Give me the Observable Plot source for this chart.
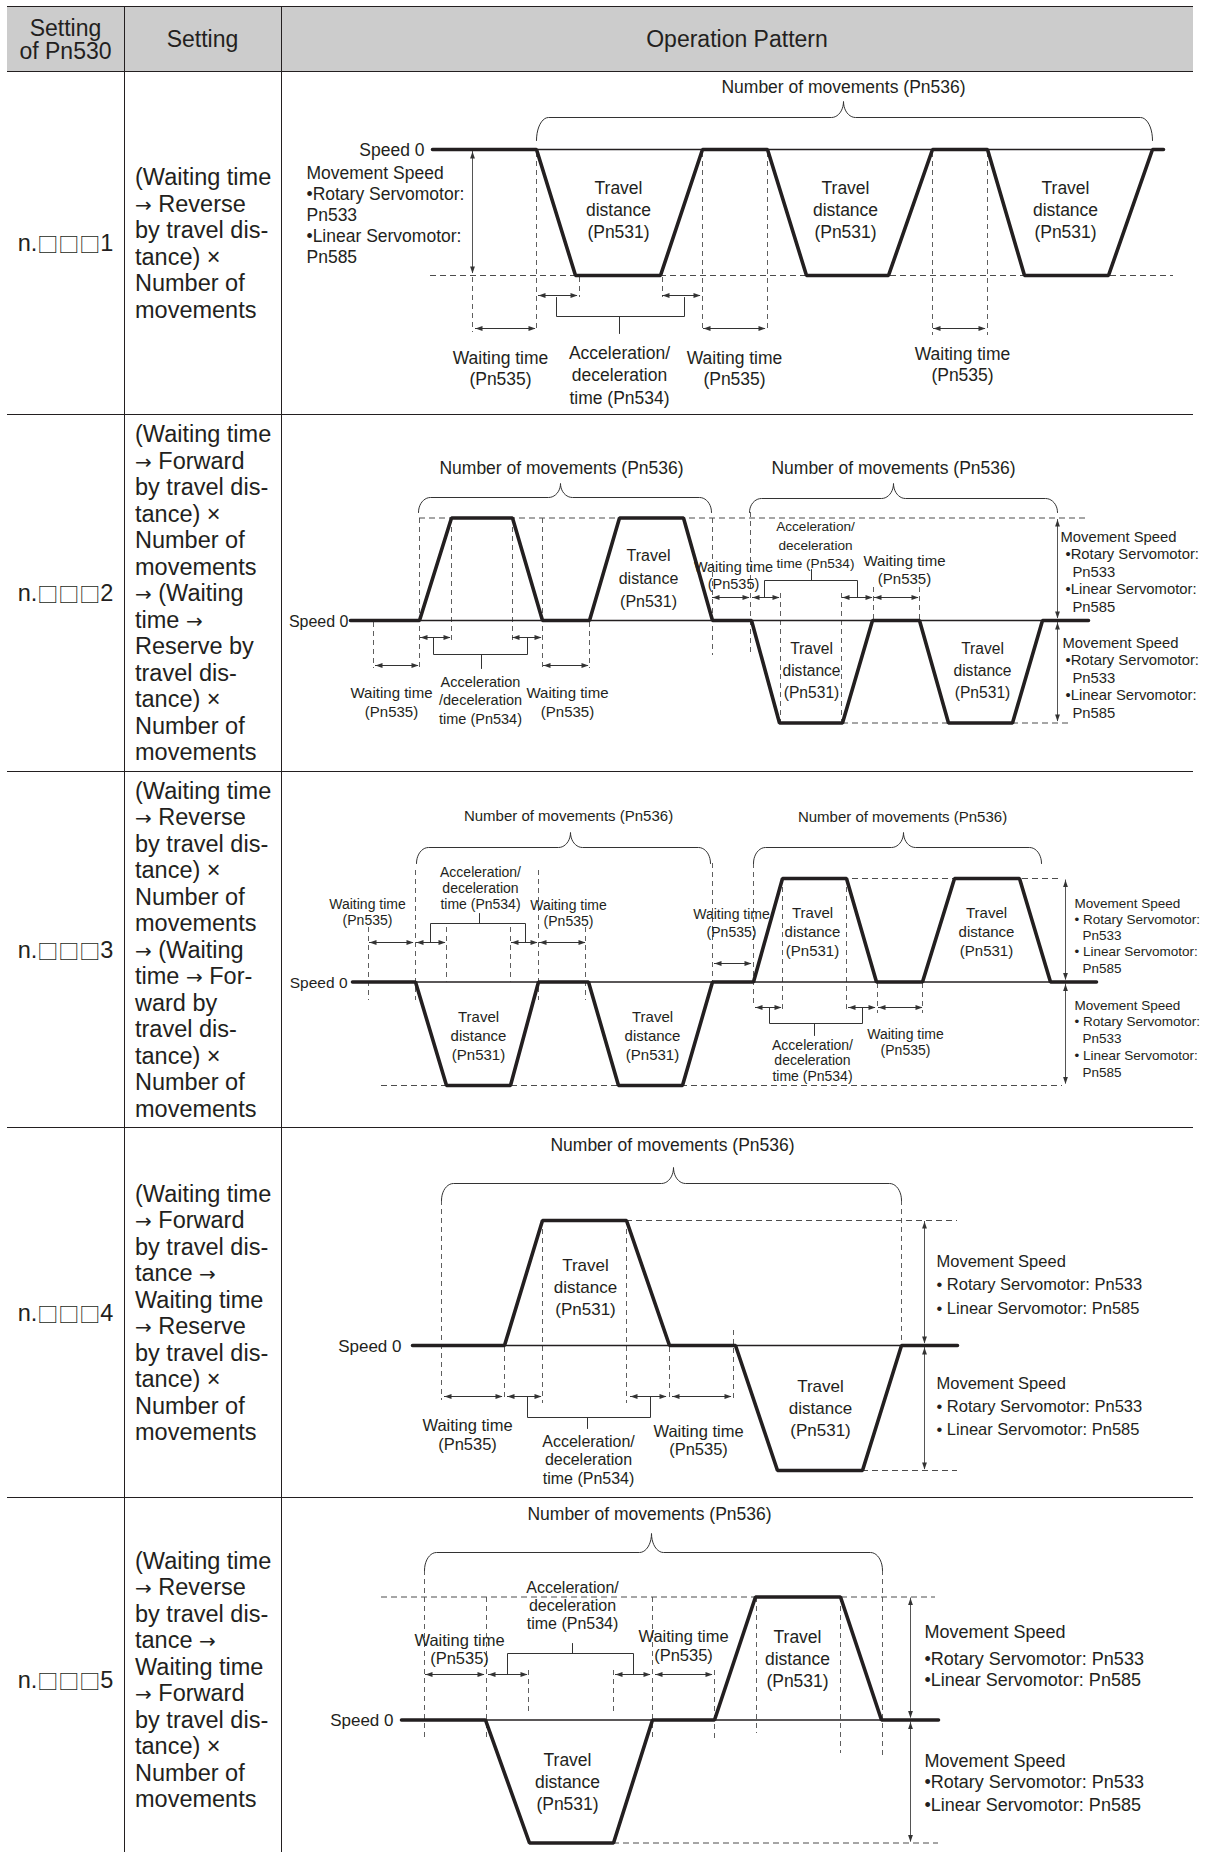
<!DOCTYPE html>
<html lang="en">
<head>
<meta charset="utf-8">
<title>Operation Pattern</title>
<script src="https://cdn.jsdelivr.net/npm/d3@7"></script>
<script src="https://cdn.jsdelivr.net/npm/@observablehq/plot@0.6"></script>
<style>
html,body{margin:0;padding:0;background:#fff;}
#page{position:relative;width:1218px;height:1852px;overflow:hidden;font-family:"Liberation Sans",Arial,Helvetica,sans-serif;color:#231f20;}
.hbg{position:absolute;left:7px;top:7px;width:1186px;height:65px;background:#cccccc;}
.hl{position:absolute;left:7px;width:1186px;height:0;border-top:1.6px solid #231f20;}
.vl{position:absolute;top:7px;height:1845px;width:0;border-left:1.1px solid #231f20;}
.hdr{position:absolute;top:7px;height:65px;display:flex;align-items:center;justify-content:center;text-align:center;font-size:23px;line-height:23px;}
.code{position:absolute;left:7px;width:117px;display:flex;align-items:center;justify-content:center;font-size:23.5px;}
.sq{font-family:"Noto Sans CJK JP","DejaVu Sans",sans-serif;font-size:21px;line-height:23px;}
.steps{position:absolute;left:135px;width:146px;display:flex;flex-direction:column;justify-content:center;font-size:23.5px;}
.ln{height:26.5px;line-height:26.5px;white-space:pre;}
.ar{font-family:"DejaVu Sans",sans-serif;font-size:20px;line-height:20px;}
.plot{position:absolute;left:281px;width:937px;}
.plot svg{overflow:visible;}
</style>
</head>
<body>
<div id="page"></div>
<script>
// ---------- table content ----------
const headerLabels = ["Setting\nof Pn530", "Setting", "Operation Pattern"];
const settingCodes = ["1", "2", "3", "4", "5"];
const rowEdges = [72, 415, 772, 1128, 1498, 1852];
const settingSteps = [
  ["(Waiting time", "→ Reverse", "by travel dis-", "tance) ×", "Number of", "movements"],
  ["(Waiting time", "→ Forward", "by travel dis-", "tance) ×", "Number of", "movements", "→ (Waiting", "time →", "Reserve by", "travel dis-", "tance) ×", "Number of", "movements"],
  ["(Waiting time", "→ Reverse", "by travel dis-", "tance) ×", "Number of", "movements", "→ (Waiting", "time → For-", "ward by", "travel dis-", "tance) ×", "Number of", "movements"],
  ["(Waiting time", "→ Forward", "by travel dis-", "tance →", "Waiting time", "→ Reserve", "by travel dis-", "tance) ×", "Number of", "movements"],
  ["(Waiting time", "→ Reverse", "by travel dis-", "tance →", "Waiting time", "→ Forward", "by travel dis-", "tance) ×", "Number of", "movements"]
];

// ---------- operation patterns: time axis, speed (0 = stop, +1 forward, -1 reverse) ----------
// Row n.□□□1
const r1Base = 149, r1Speed = 126;
const r1Times = [432, 536, 575, 660, 702, 767, 806, 888, 932, 987, 1024, 1108, 1152, 1163];
const r1Dirs  = [0, 0, -1, -1, 0, 0, -1, -1, 0, 0, -1, -1, 0, 0];
const r1Zero = [432, 1163];
const r1Levels = [[-1, 430, 1173]];
const r1Guides = [[472, -128, -183], [536, -3, -183], [579, -128, -148], [662, -128, -148], [702, -3, -183], [767, -3, -183], [932, -3, -186], [987, -3, -186]];
const r1HArrows = [[-146, 538, 577], [-146, 662, 700], [-179, 475, 535], [-179, 703, 765], [-179, 933, 985]];
const r1VArrows = [[472, -2, -124]];
const r1Brackets = [[556, 684, -148, -167, 619, -184]];
const r1Braces = [[536, 1152, 843, 9, 32, 48]];
const r1Texts = [
  ["Speed 0", 424, 0, 17.5, 21, "end"],
  ["Movement Speed\n•Rotary Servomotor:\nPn533\n•Linear Servomotor:\nPn585", 306, -65, 17.5, 21, "start"],
  ["Travel\ndistance\n(Pn531)", 618, -59, 17.5, 22],
  ["Travel\ndistance\n(Pn531)", 845, -59, 17.5, 22],
  ["Travel\ndistance\n(Pn531)", 1065, -59, 17.5, 22],
  ["Waiting time\n(Pn535)", 500, -218.5, 17.5, 21],
  ["Acceleration/\ndeceleration\ntime (Pn534)", 619, -224.5, 17.5, 22.5],
  ["Waiting time\n(Pn535)", 734, -218.5, 17.5, 21],
  ["Waiting time\n(Pn535)", 962, -214, 17.5, 21],
  ["Number of movements (Pn536)", 843, 63, 17.5, 21]
];

// Row n.□□□2
const r2Base = 620, r2Speed = 102.5;
const r2Times = [350, 419, 451, 512, 542, 589, 619, 683, 712, 751, 779, 842, 872, 919, 948, 1012, 1042, 1088];
const r2Dirs  = [0, 0, 1, 1, 0, 0, 1, 1, 0, 0, -1, -1, 0, 0, -1, -1, 0, 0];
const r2Zero = [350, 1088];
const r2Levels = [[1, 419, 1087], [-1, 842, 1068]];
const r2Guides = [[373, -2, -48], [419, 102, -48], [451, 102, -20], [512, 102, -20], [542, 102, -48], [589, -2, -48],
  [712, 102, -35], [750, 108, -35], [780, 27, -103], [841, 27, -103], [873, 33, 0], [919, 33, 0]];
const r2HArrows = [[-17, 420, 450], [-17, 512, 541], [-45, 375, 418], [-45, 543, 588], [23, 712, 749], [23, 752, 779], [23, 842, 872], [23, 874, 918]];
const r2VArrows = [[1057, 101, 2], [1057, -2, -101]];
const r2Brackets = [[433, 527, -17, -34, 481, -48], [764, 857, 23, 40, 811, 51]];
const r2Braces = [[418, 711, 560, 108, 123, 137], [749, 1057, 893, 108, 122, 137]];
const r2Texts = [
  ["Speed 0", 348, 0, 16, 20, "end"],
  ["Number of movements (Pn536)", 561, 153, 17.5, 21],
  ["Number of movements (Pn536)", 893, 153, 17.5, 21],
  ["Movement Speed", 1060, 84, 14.8, 17, "start"],
  ["•Rotary Servomotor:", 1065, 66.5, 14.8, 17, "start"],
  ["Pn533", 1072, 49, 14.8, 17, "start"],
  ["•Linear Servomotor:", 1065, 31.5, 14.8, 17, "start"],
  ["Pn585", 1072, 14, 14.8, 17, "start"],
  ["Movement Speed", 1062, -22, 14.8, 17, "start"],
  ["•Rotary Servomotor:", 1065, -39.5, 14.8, 17, "start"],
  ["Pn533", 1072, -57, 14.8, 17, "start"],
  ["•Linear Servomotor:", 1065, -74.5, 14.8, 17, "start"],
  ["Pn585", 1072, -92, 14.8, 17, "start"],
  ["Waiting time\n(Pn535)", 391, -81, 15, 18.5],
  ["Acceleration\n/deceleration\ntime (Pn534)", 480, -79, 14.5, 18.5],
  ["Waiting time\n(Pn535)", 567, -81, 15, 18.5],
  ["Waiting time\n(Pn535)", 733, 45.5, 14.5, 17],
  ["Acceleration/\ndeceleration\ntime (Pn534)", 815, 76.5, 13.6, 18.5],
  ["Waiting time\n(Pn535)", 904, 51, 15, 18],
  ["Travel\ndistance\n(Pn531)", 648, 44, 16, 23],
  ["Travel\ndistance\n(Pn531)", 811, -48, 15.6, 22],
  ["Travel\ndistance\n(Pn531)", 982, -48, 15.6, 22]
];

// Row n.□□□3
const r3Base = 981.5, r3Speed = 103.5;
const r3Times = [352, 415, 446, 510, 538, 588, 618, 682, 712, 753, 782, 846, 876, 922, 954, 1019, 1050, 1096];
const r3Dirs  = [0, 0, -1, -1, 0, 0, -1, -1, 0, 0, 1, 1, 0, 0, 1, 1, 0, 0];
const r3Zero = [352, 1096];
const r3Levels = [[-1, 381, 1062], [1, 782, 1062]];
const r3Guides = [[368, 54.5, -18.5], [415, 111.5, -18.5], [446, 54.5, 0], [510, 54.5, 0], [538, 111.5, -18.5], [585, 54.5, -18.5],
  [712, 118.5, -1.5], [753, 118.5, -21.5], [782, 103.5, -31.5], [846, 103.5, -31.5], [877, -1.5, -31.5], [922, -1.5, -31.5]];
const r3HArrows = [[39.5, 369, 413], [39.5, 416, 445], [39.5, 511, 537], [39.5, 539, 585], [18.5, 714, 751], [-25.5, 755, 781], [-25.5, 848, 875], [-25.5, 878, 922]];
const r3VArrows = [[1065, 102, 2], [1065, -2, -102]];
const r3Brackets = [[430, 525, 39.5, 58.5, 479, 68.5], [769, 862, -25.5, -41.5, 814, -53.5]];
const r3Braces = [[416, 710, 570, 118.5, 134.5, 149.5], [753, 1041, 903, 118.5, 134.5, 149.5]];
const r3Texts = [
  ["Speed 0", 347, 0, 15.5, 19, "end"],
  ["Number of movements (Pn536)", 568, 166.5, 15, 18],
  ["Number of movements (Pn536)", 902, 165.5, 15, 18],
  ["Movement Speed", 1074, 79.5, 13.5, 16, "start"],
  ["• Rotary Servomotor:", 1074, 63.2, 13.5, 16, "start"],
  ["Pn533", 1082, 47, 13.5, 16, "start"],
  ["• Linear Servomotor:", 1074, 30.7, 13.5, 16, "start"],
  ["Pn585", 1082, 14.5, 13.5, 16, "start"],
  ["Movement Speed", 1074, -22.5, 13.5, 16, "start"],
  ["• Rotary Servomotor:", 1074, -39.2, 13.5, 16, "start"],
  ["Pn533", 1082, -56, 13.5, 16, "start"],
  ["• Linear Servomotor:", 1074, -72.7, 13.5, 16, "start"],
  ["Pn585", 1082, -89.5, 13.5, 16, "start"],
  ["Waiting time\n(Pn535)", 367, 70.5, 14, 16],
  ["Acceleration/\ndeceleration\ntime (Pn534)", 480, 94.5, 14, 16],
  ["Waiting time\n(Pn535)", 568, 69.5, 14, 16],
  ["Waiting time\n(Pn535)", 731, 59.5, 14, 18],
  ["Acceleration/\ndeceleration\ntime (Pn534)", 812, -78.5, 14, 15.5],
  ["Waiting time\n(Pn535)", 905, -59.5, 14, 16],
  ["Travel\ndistance\n(Pn531)", 478, -52.5, 15, 19],
  ["Travel\ndistance\n(Pn531)", 652, -52.5, 15, 19],
  ["Travel\ndistance\n(Pn531)", 812, 51.5, 15, 19],
  ["Travel\ndistance\n(Pn531)", 986, 51.5, 15, 19]
];

// Row n.□□□4
const r4Base = 1345, r4Speed = 125;
const r4Times = [412, 504, 542, 626, 669, 735, 777, 862, 901, 957];
const r4Dirs  = [0, 0, 1, 1, 0, 0, -1, -1, 0, 0];
const r4Zero = [412, 957];
const r4Levels = [[1, 626, 957], [-1, 862, 957]];
const r4Guides = [[441, 145, -55], [504, -2, -55], [542, 125, -58], [626, 125, -58], [669, -2, -55], [733, 15, -55], [901, 145, -2]];
const r4HArrows = [[-51, 444, 502], [-51, 507, 541], [-51, 630, 666], [-51, 672, 731]];
const r4VArrows = [[924, 124, 2], [924, -2, -124]];
const r4Brackets = [[527, 650, -51, -72, 587, -83]];
const r4Braces = [[441, 901, 673, 145, 162, 178]];
const r4Texts = [
  ["Speed 0", 401, 0, 17, 20, "end"],
  ["Number of movements (Pn536)", 672, 201, 17.5, 21],
  ["Movement Speed", 936, 85, 16.5, 20, "start"],
  ["• Rotary Servomotor: Pn533", 936, 62, 16.5, 20, "start"],
  ["• Linear Servomotor: Pn585", 936, 38, 16.5, 20, "start"],
  ["Movement Speed", 936, -37, 16.5, 20, "start"],
  ["• Rotary Servomotor: Pn533", 936, -60, 16.5, 20, "start"],
  ["• Linear Servomotor: Pn585", 936, -83, 16.5, 20, "start"],
  ["Waiting time\n(Pn535)", 467, -89, 16.5, 19],
  ["Acceleration/\ndeceleration\ntime (Pn534)", 588, -114, 16, 18.5],
  ["Waiting time\n(Pn535)", 698, -95, 16.5, 18],
  ["Travel\ndistance\n(Pn531)", 585, 60, 17, 22],
  ["Travel\ndistance\n(Pn531)", 820, -61, 17, 22]
];

// Row n.□□□5
const r5Base = 1719.5, r5Speed = 123;
const r5Times = [401, 485, 529, 613, 652, 714, 755, 840, 881, 938];
const r5Dirs  = [0, 0, -1, -1, 0, 0, 1, 1, 0, 0];
const r5Zero = [401, 938];
const r5Levels = [[1, 381, 935], [-1, 613, 938]];
const r5Guides = [[424, 149.5, -18.5], [486, 122.5, -18.5], [528, 49.5, 7.5], [613, 49.5, 7.5], [652, 122.5, -18.5], [714, 49.5, -18.5],
  [756, 122.5, -13.5], [840, 122.5, -33.5], [882, 149.5, -37.5]];
const r5HArrows = [[45.5, 425, 484], [45.5, 488, 527], [45.5, 615, 650], [45.5, 655, 712]];
const r5VArrows = [[910, 122, 2], [910, -2, -122]];
const r5Brackets = [[507, 633, 45.5, 66.5, 572, 76.5]];
const r5Braces = [[424, 882, 651, 149.5, 167.5, 186.5]];
const r5Texts = [
  ["Speed 0", 393, 0, 17, 20, "end"],
  ["Number of movements (Pn536)", 649, 206.5, 17.5, 21],
  ["Movement Speed", 924, 88.5, 18, 21, "start"],
  ["•Rotary Servomotor: Pn533", 924, 61.5, 18, 21, "start"],
  ["•Linear Servomotor: Pn585", 924, 40.5, 18, 21, "start"],
  ["Movement Speed", 924, -40.5, 18, 21, "start"],
  ["•Rotary Servomotor: Pn533", 924, -61.5, 18, 21, "start"],
  ["•Linear Servomotor: Pn585", 924, -84.5, 18, 21, "start"],
  ["Waiting time\n(Pn535)", 459, 70.5, 16.5, 18],
  ["Acceleration/\ndeceleration\ntime (Pn534)", 572, 114.5, 16, 18],
  ["Waiting time\n(Pn535)", 683, 75, 16.5, 19],
  ["Travel\ndistance\n(Pn531)", 567, -60.5, 17.5, 22],
  ["Travel\ndistance\n(Pn531)", 797, 62.5, 17.5, 22]
];

const patterns = [
  {base: r1Base, V: r1Speed, times: r1Times, dirs: r1Dirs, zero: r1Zero, levels: r1Levels, guides: r1Guides, hArrows: r1HArrows, vArrows: r1VArrows, brackets: r1Brackets, braces: r1Braces, texts: r1Texts},
  {base: r2Base, V: r2Speed, times: r2Times, dirs: r2Dirs, zero: r2Zero, levels: r2Levels, guides: r2Guides, hArrows: r2HArrows, vArrows: r2VArrows, brackets: r2Brackets, braces: r2Braces, texts: r2Texts},
  {base: r3Base, V: r3Speed, times: r3Times, dirs: r3Dirs, zero: r3Zero, levels: r3Levels, guides: r3Guides, hArrows: r3HArrows, vArrows: r3VArrows, brackets: r3Brackets, braces: r3Braces, texts: r3Texts},
  {base: r4Base, V: r4Speed, times: r4Times, dirs: r4Dirs, zero: r4Zero, levels: r4Levels, guides: r4Guides, hArrows: r4HArrows, vArrows: r4VArrows, brackets: r4Brackets, braces: r4Braces, texts: r4Texts},
  {base: r5Base, V: r5Speed, times: r5Times, dirs: r5Dirs, zero: r5Zero, levels: r5Levels, guides: r5Guides, hArrows: r5HArrows, vArrows: r5VArrows, brackets: r5Brackets, braces: r5Braces, texts: r5Texts}
];

// ---------- helpers ----------
const FONT = '"Liberation Sans", Arial, Helvetica, sans-serif';
const INK = "#231f20";

function bracePts([x1, x2, xm, yE, yB, yT]) {
  const rx = 12, rm = 12, n = 10, pts = [], H = Math.PI / 2;
  for (let i = 0; i <= n; i++) { const a = Math.PI - i * H / n; pts.push([x1 + rx + rx * Math.cos(a), yE + (yB - yE) * Math.sin(a)]); }
  for (let i = 0; i <= n; i++) { const a = -H + i * H / n; pts.push([xm - rm + rm * Math.cos(a), yT + (yT - yB) * Math.sin(a)]); }
  for (let i = 0; i <= n; i++) { const a = Math.PI + i * H / n; pts.push([xm + rm + rm * Math.cos(a), yT + (yT - yB) * Math.sin(a)]); }
  for (let i = 0; i <= n; i++) { const a = H - i * H / n; pts.push([x2 - rx + rx * Math.cos(a), yE + (yB - yE) * Math.sin(a)]); }
  return pts;
}

function patternPlot(r, top, bottom) {
  const profile = r.times.map((t, i) => ({t, v: r.dirs[i] * r.V}));
  const levels = r.levels.map(([d, x1, x2]) => ({y: d * r.V, x1, x2}));
  const guides = r.guides.map(([x, y1, y2]) => ({x, y1, y2}));
  const hA = r.hArrows.map(([y, x1, x2]) => ({y, x1, x2}));
  const vA = r.vArrows.map(([x, y1, y2]) => ({x, y1, y2}));
  const heads = [
    ...hA.flatMap(d => [{x: d.x1, y: d.y, rot: -90}, {x: d.x2, y: d.y, rot: 90}]),
    ...vA.flatMap(d => [{x: d.x, y: Math.max(d.y1, d.y2), rot: 0}, {x: d.x, y: Math.min(d.y1, d.y2), rot: 180}])
  ];
  const brk = r.brackets.flatMap(([x1, x2, ya, yb, xs, ys], i) => [
    {g: "b" + i, x: x1, y: ya}, {g: "b" + i, x: x1, y: yb}, {g: "b" + i, x: x2, y: yb}, {g: "b" + i, x: x2, y: ya},
    {g: "s" + i, x: xs, y: yb}, {g: "s" + i, x: xs, y: ys}
  ]);
  const brc = r.braces.flatMap((b, i) => bracePts(b).map(([x, y]) => ({g: "c" + i, x, y})));
  const texts = r.texts.map(([t, x, y, s, lh, a]) => ({t, x, y, s, lh, a: a || "middle"}));
  return Plot.plot({
    width: 937,
    height: bottom - top,
    margin: 0,
    x: {domain: [281, 1218], axis: null},
    y: {domain: [r.base - bottom, r.base - top], axis: null},
    style: {fontFamily: FONT, color: INK, background: "none", overflow: "visible"},
    marks: [
      Plot.ruleY(levels, {y: "y", x1: "x1", x2: "x2", stroke: "#4d4d4d", strokeWidth: 1, strokeDasharray: "6,4"}),
      Plot.ruleX(guides, {x: "x", y1: "y1", y2: "y2", stroke: "#4d4d4d", strokeWidth: 0.9, strokeDasharray: "5,4"}),
      Plot.ruleY([0], {x1: r.zero[0], x2: r.zero[1], stroke: INK, strokeWidth: 1.4}),
      Plot.ruleY(hA, {y: "y", x1: "x1", x2: "x2", stroke: "#333", strokeWidth: 1}),
      Plot.ruleX(vA, {x: "x", y1: "y1", y2: "y2", stroke: "#555", strokeWidth: 1}),
      Plot.vector(heads, {x: "x", y: "y", rotate: "rot", length: 7, r: 2.4, shape: "spike", anchor: "end", fill: "#333", stroke: "none"}),
      Plot.line(brk, {x: "x", y: "y", z: "g", stroke: "#333", strokeWidth: 1}),
      Plot.line(brc, {x: "x", y: "y", z: "g", stroke: "#333", strokeWidth: 1}),
      Plot.line(profile, {x: "t", y: "v", stroke: INK, strokeWidth: 3.6, strokeLinejoin: "miter"}),
      ...texts.map(d => Plot.text([d], {x: "x", y: "y", text: "t", fontSize: d.s, lineHeight: d.lh / d.s, textAnchor: d.a, lineAnchor: "middle", fill: INK}))
    ]
  });
}

// ---------- build page ----------
const page = document.getElementById("page");
function el(cls, css, html) {
  const d = document.createElement("div");
  d.className = cls;
  Object.assign(d.style, css);
  if (html != null) d.innerHTML = html;
  page.appendChild(d);
  return d;
}

el("hbg", {});
[7, ...rowEdges.slice(0, 5)].forEach(y => el("hl", {top: (y - 0.8) + "px"}));
[124, 281].forEach(x => el("vl", {left: (x - 0.5) + "px"}));

el("hdr", {left: "7px", width: "117px"}, headerLabels[0].replace("\n", "<br>"));
el("hdr", {left: "124px", width: "157px"}, headerLabels[1]);
el("hdr", {left: "281px", width: "912px"}, headerLabels[2]);

settingCodes.forEach((c, i) => {
  const top = rowEdges[i];
  const bottom = i === 4 ? rowEdges[i + 1] + 10 : rowEdges[i + 1];
  el("code", {top: top + "px", height: (bottom - top) + "px"}, 'n.<span class="sq">□□□</span>' + c);
  const html = settingSteps[i]
    .map(s => '<div class="ln">' + s.replace(/→/g, '<span class="ar">→</span>') + "</div>")
    .join("");
  el("steps", {top: top + "px", height: (bottom - top) + "px"}, html);
  const holder = el("plot", {top: top + "px", height: (rowEdges[i + 1] - top) + "px"});
  holder.appendChild(patternPlot(patterns[i], top, rowEdges[i + 1]));
});
</script>
</body>
</html>
